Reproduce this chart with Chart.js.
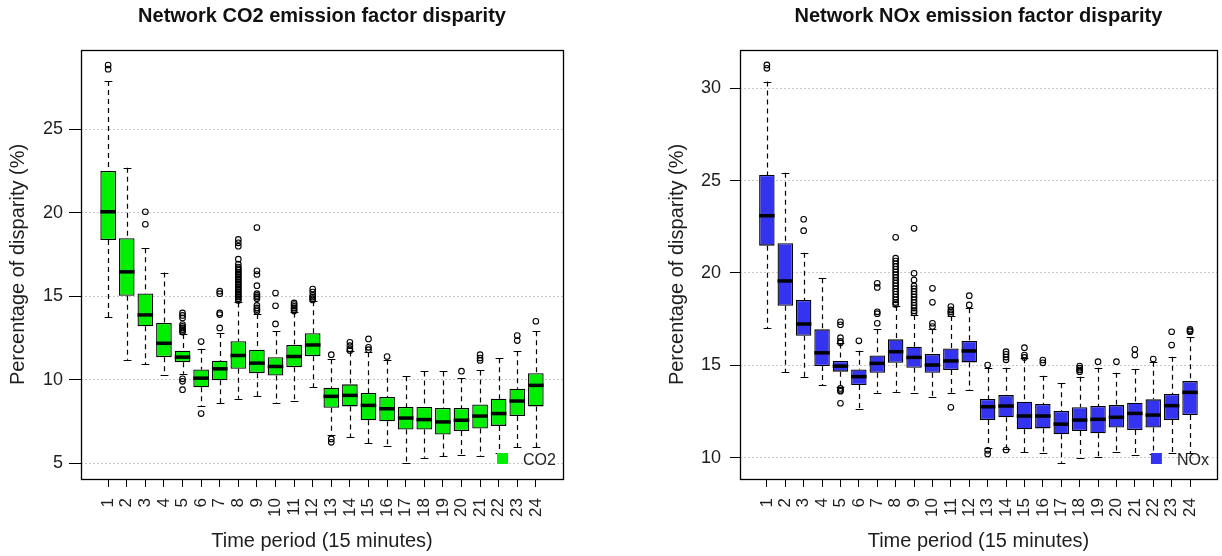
<!DOCTYPE html>
<html>
<head>
<meta charset="utf-8">
<script src="https://cdn.jsdelivr.net/npm/chart.js@4.4.1/dist/chart.umd.min.js"></script>
<style>
  html, body { margin: 0; padding: 0; background: #fff; overflow: hidden; }
  .panel { position: absolute; top: 0; width: 611px; height: 556px; }
  #co2Panel { left: 0; }
  #noxPanel { left: 611px; }
</style>
</head>
<body>
<div class="panel" id="co2Panel"><canvas id="co2Chart" width="611" height="556"></canvas></div>
<div class="panel" id="noxPanel"><canvas id="noxChart" width="611" height="556"></canvas></div>
<script>
// time periods (15 minutes each)
const periods = [1, 2, 3, 4, 5, 6, 7, 8, 9, 10, 11, 12, 13, 14, 15, 16, 17, 18, 19, 20, 21, 22, 23, 24];

// CO2 box stats
const co2Low    = [13.73, 11.19, 10.91, 10.3, 10.35, 8.42, 8.6, 8.86, 9.0, 8.6, 8.72, 9.55, 6.67, 6.57, 6.18, 6.05, 5.02, 5.32, 5.42, 5.48, 5.42, 5.58, 5.97, 5.97];
const co2Q1     = [18.37, 15.03, 13.2, 11.35, 11.05, 9.55, 9.96, 10.65, 10.39, 10.25, 10.75, 11.41, 8.32, 8.4, 7.57, 7.51, 7.01, 7.01, 6.71, 6.93, 7.07, 7.23, 7.82, 8.4];
const co2Median = [20.06, 16.46, 13.88, 12.18, 11.35, 10.09, 10.65, 11.45, 10.99, 10.79, 11.39, 12.08, 9.0, 9.06, 8.46, 8.26, 7.7, 7.61, 7.47, 7.57, 7.82, 7.97, 8.72, 9.66];
const co2Q3     = [22.5, 18.47, 15.17, 13.4, 11.73, 10.61, 11.13, 12.3, 11.79, 11.35, 12.08, 12.78, 9.52, 9.72, 9.2, 8.96, 8.36, 8.36, 8.3, 8.3, 8.52, 8.86, 9.46, 10.39];
const co2High   = [27.9, 22.69, 17.88, 16.42, 12.74, 11.85, 12.8, 14.63, 13.94, 12.9, 14.03, 14.7, 11.23, 11.69, 11.64, 11.2, 10.21, 10.49, 10.49, 10.09, 10.55, 11.29, 11.7, 12.9];
const co2Outliers = [
  [1, 28.6], [1, 28.85],
  [3, 20.06], [3, 19.31],
  [5, 14.0], [5, 13.85], [5, 13.7], [5, 13.3], [5, 13.2], [5, 13.1], [5, 13.0], [5, 12.9], [5, 12.85], [5, 10.05], [5, 9.9], [5, 9.4],
  [6, 12.28], [6, 7.97],
  [7, 15.3], [7, 15.15], [7, 14.0], [7, 13.9], [7, 13.1],
  [8, 18.4], [8, 18.2], [8, 18.0], [8, 17.22], [8, 16.92], [8, 16.75], [8, 16.65], [8, 16.55], [8, 16.45], [8, 16.35],
  [8, 16.25], [8, 16.15], [8, 16.05], [8, 15.95], [8, 15.85], [8, 15.75], [8, 15.65], [8, 15.55], [8, 15.45], [8, 15.35],
  [8, 15.25], [8, 15.15], [8, 15.05], [8, 14.95], [8, 14.85], [8, 14.75],
  [9, 19.11], [9, 16.52], [9, 16.3], [9, 15.63], [9, 15.15], [9, 15.05], [9, 14.95], [9, 14.85], [9, 14.45], [9, 14.3], [9, 14.2], [9, 14.1],
  [10, 15.19], [10, 14.43], [10, 13.34],
  [11, 14.6], [11, 14.5], [11, 14.4], [11, 14.3], [11, 14.2], [11, 14.12],
  [12, 15.43], [12, 15.25], [12, 15.05], [12, 14.95], [12, 14.85], [12, 14.78],
  [13, 11.5], [13, 6.45], [13, 6.25],
  [14, 12.24], [14, 12.04], [14, 11.85], [14, 11.75],
  [15, 12.44], [15, 11.94], [15, 11.8],
  [16, 11.39],
  [20, 10.51],
  [21, 11.5], [21, 11.3], [21, 11.15],
  [23, 12.64], [23, 12.34],
  [24, 13.5]
];
const co2Ticks = [5, 10, 15, 20, 25];

// NOx box stats
const noxLow    = [17.0, 14.62, 14.39, 13.94, 13.81, 12.62, 13.52, 13.57, 13.52, 13.27, 13.52, 13.67, 10.55, 10.5, 10.29, 10.27, 9.73, 9.97, 10.06, 10.29, 10.15, 10.2, 10.24, 10.24];
const noxQ1     = [21.48, 18.23, 16.6, 14.96, 14.66, 13.94, 14.6, 15.14, 14.87, 14.6, 14.75, 15.16, 12.04, 12.19, 11.54, 11.59, 11.27, 11.45, 11.32, 11.64, 11.5, 11.64, 12.04, 12.31];
const noxMedian = [23.1, 19.57, 17.24, 15.68, 14.96, 14.39, 15.11, 15.74, 15.43, 15.02, 15.24, 15.78, 12.76, 12.8, 12.26, 12.26, 11.82, 12.04, 12.08, 12.19, 12.4, 12.31, 12.82, 13.54];
const noxQ3     = [25.31, 21.61, 18.54, 16.95, 15.24, 14.78, 15.54, 16.41, 16.01, 15.61, 15.92, 16.32, 13.18, 13.39, 13.03, 12.91, 12.53, 12.73, 12.8, 12.85, 12.98, 13.16, 13.45, 14.15];
const noxHigh   = [30.36, 25.43, 21.1, 19.71, 16.19, 15.79, 16.95, 18.21, 17.73, 16.95, 17.67, 18.09, 14.84, 14.87, 15.38, 14.44, 14.03, 14.39, 14.87, 14.6, 14.78, 15.2, 15.47, 16.52];
const noxOutliers = [
  [1, 31.08], [1, 31.26],
  [3, 22.91], [3, 22.29],
  [5, 17.36], [5, 17.2], [5, 16.5], [5, 16.3], [5, 16.22], [5, 13.75], [5, 13.65], [5, 13.6], [5, 12.95],
  [6, 16.33],
  [7, 19.44], [7, 19.22], [7, 17.9], [7, 17.8], [7, 17.28],
  [8, 21.93], [8, 20.8], [8, 20.65], [8, 20.5], [8, 20.35], [8, 20.2], [8, 20.05], [8, 19.9], [8, 19.75], [8, 19.6],
  [8, 19.45], [8, 19.3], [8, 19.15], [8, 19.0], [8, 18.85], [8, 18.7], [8, 18.55], [8, 18.4], [8, 18.3],
  [9, 22.42], [9, 19.98], [9, 19.62], [9, 19.3], [9, 19.15], [9, 19.0], [9, 18.85], [9, 18.7], [9, 18.55], [9, 18.4],
  [9, 18.25], [9, 18.1], [9, 17.95], [9, 17.85],
  [10, 19.17], [10, 18.41], [10, 17.28], [10, 17.1],
  [11, 18.18], [11, 18.0], [11, 17.9], [11, 17.8], [11, 12.73],
  [12, 18.77], [12, 18.27],
  [13, 15.02], [13, 10.4], [13, 10.2],
  [14, 15.74], [14, 15.6], [14, 15.45], [14, 15.3], [14, 10.42],
  [15, 15.96], [15, 15.56], [15, 15.43],
  [16, 15.29], [16, 15.14],
  [18, 14.96], [18, 14.85], [18, 14.75], [18, 14.66],
  [19, 15.2],
  [20, 15.2],
  [21, 15.87], [21, 15.56],
  [22, 15.34],
  [23, 16.82], [23, 16.1],
  [24, 16.95], [24, 16.88], [24, 16.82]
];
const noxTicks = [10, 15, 20, 25, 30];

Chart.defaults.font.family = '"Liberation Sans", Arial, sans-serif';
Chart.defaults.color = '#1e1e1e';
Chart.defaults.animation = false;

// whiskers, medians, frame and the little legend
function boxWhiskers(s) {
  return {
    id: 'boxWhiskers',
    beforeDatasetsDraw(chart) {
      const {ctx, scales: {y}} = chart;
      const bars = chart.getDatasetMeta(1).data;
      ctx.save();
      ctx.strokeStyle = '#000';
      ctx.lineWidth = 1.2;
      bars.forEach((bar, i) => {
        const cx = Math.round(bar.x) + 0.5;
        const half = bar.width / 4;
        ctx.setLineDash([5, 4]);
        ctx.beginPath();
        ctx.moveTo(cx, y.getPixelForValue(s.high[i]));
        ctx.lineTo(cx, y.getPixelForValue(s.q3[i]));
        ctx.moveTo(cx, y.getPixelForValue(s.q1[i]));
        ctx.lineTo(cx, y.getPixelForValue(s.low[i]));
        ctx.stroke();
        ctx.setLineDash([]);
        ctx.beginPath();
        [s.high[i], s.low[i]].forEach(v => {
          const py = Math.round(y.getPixelForValue(v)) + 0.5;
          ctx.moveTo(cx - half, py);
          ctx.lineTo(cx + half, py);
        });
        ctx.stroke();
      });
      ctx.restore();
    },
    afterDatasetsDraw(chart) {
      const {ctx, chartArea: area, scales: {y}} = chart;
      const bars = chart.getDatasetMeta(1).data;
      ctx.save();
      ctx.strokeStyle = '#000';
      ctx.lineWidth = 3.5;
      bars.forEach((bar, i) => {
        const py = y.getPixelForValue(s.median[i]);
        ctx.beginPath();
        ctx.moveTo(bar.x - bar.width / 2, py);
        ctx.lineTo(bar.x + bar.width / 2, py);
        ctx.stroke();
      });
      // plot frame
      ctx.lineWidth = 1.3;
      ctx.strokeRect(Math.round(area.left) + 0.5, Math.round(area.top) + 0.5,
        Math.round(area.right - area.left), Math.round(area.bottom - area.top));
      // legend, bottom right
      ctx.fillStyle = s.color;
      ctx.fillRect(area.right - 66, area.bottom - 26, 11, 11);
      ctx.fillStyle = '#222';
      ctx.font = '16px "Liberation Sans", Arial, sans-serif';
      ctx.textBaseline = 'middle';
      ctx.textAlign = 'left';
      ctx.fillText(s.label, area.right - 40, area.bottom - 18);
      ctx.restore();
    }
  };
}

function makePanel(canvasId, p) {
  const ctx = document.getElementById(canvasId).getContext('2d');
  return new Chart(ctx, {
    type: 'bar',
    data: {
      datasets: [{
        type: 'scatter',
        label: 'outliers',
        data: p.outliers.map(([t, v]) => ({x: t, y: v})),
        pointStyle: 'circle',
        pointRadius: 2.8,
        pointBorderWidth: 1.1,
        pointBorderColor: '#000',
        pointBackgroundColor: 'rgba(255,255,255,0)'
      }, {
        label: p.label,
        data: periods.map((t, i) => ({x: t, y: [p.q1[i], p.q3[i]]})),
        backgroundColor: p.color,
        borderColor: '#000',
        borderWidth: 1.3,
        borderSkipped: false,
        categoryPercentage: 1,
        barPercentage: 0.84
      }]
    },
    options: {
      responsive: false,
      events: [],
      layout: {padding: {left: p.padLeft, right: p.padRight, top: 0, bottom: 0}},
      plugins: {
        legend: {display: false},
        tooltip: {enabled: false},
        title: {
          display: true,
          fullSize: false,
          text: p.title,
          color: '#111',
          font: {size: 20, weight: 'bold'},
          padding: {top: 4.5, bottom: 21.5}
        }
      },
      scales: {
        x: {
          type: 'linear',
          min: -0.46,
          max: 25.46,
          offset: false,
          afterBuildTicks: s => { s.ticks = periods.map(v => ({value: v})); },
          afterFit: s => { s.height = 77; },
          grid: {offset: false, drawOnChartArea: false, drawTicks: true, tickLength: 8, tickColor: '#000'},
          border: {display: false},
          ticks: {autoSkip: false, minRotation: 90, maxRotation: 90, padding: 11, font: {size: 17}, callback: v => String(v)},
          title: {display: true, text: 'Time period (15 minutes)', font: {size: 20}, padding: {top: 0, bottom: 3}}
        },
        y: {
          min: p.yMin,
          max: p.yMax,
          afterBuildTicks: s => { s.ticks = p.ticks.map(v => ({value: v})); },
          afterFit: s => { s.width = 81; },
          grid: {color: '#c8c8c8', drawTicks: true, tickLength: p.tickLength, tickColor: '#000'},
          border: {display: false, dash: [2, 2]},
          ticks: {padding: p.tickPad, font: {size: 18}, callback: v => String(v)},
          title: {display: true, text: 'Percentage of disparity (%)', font: {size: 20}, padding: {top: 6}}
        }
      }
    },
    plugins: [boxWhiskers({low: p.low, q1: p.q1, median: p.median, q3: p.q3, high: p.high, color: p.color, label: p.label})]
  });
}

makePanel('co2Chart', {
  title: 'Network CO2 emission factor disparity',
  label: 'CO2',
  color: '#00ee00',
  low: co2Low, q1: co2Q1, median: co2Median, q3: co2Q3, high: co2High,
  outliers: co2Outliers,
  ticks: co2Ticks,
  yMin: 4.05, yMax: 29.75,
  padLeft: 0, padRight: 48,
  tickLength: 12, tickPad: 6
});

makePanel('noxChart', {
  title: 'Network NOx emission factor disparity',
  label: 'NOx',
  color: '#3434f0',
  low: noxLow, q1: noxQ1, median: noxMedian, q3: noxQ3, high: noxHigh,
  outliers: noxOutliers,
  ticks: noxTicks,
  yMin: 8.85, yMax: 32.07,
  padLeft: 48, padRight: 1,
  tickLength: 10, tickPad: 9
});
</script>
</body>
</html>
